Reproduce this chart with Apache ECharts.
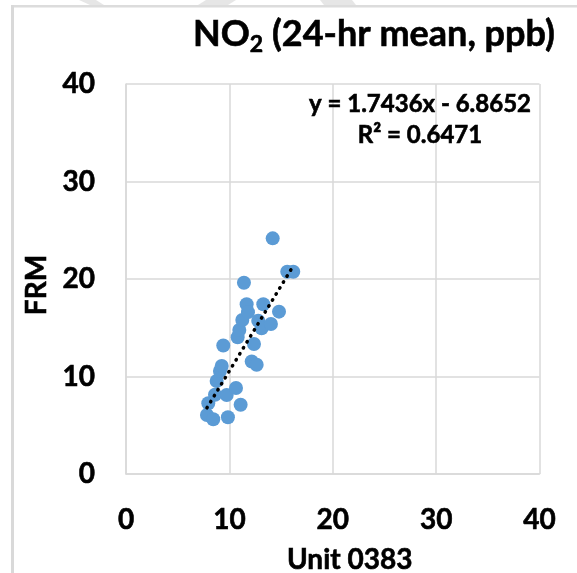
<!DOCTYPE html>
<html>
<head>
<meta charset="utf-8">
<script src="https://cdn.jsdelivr.net/npm/echarts@6/dist/echarts.min.js"></script>
<style>
html,body{margin:0;padding:0;background:#fff;}
#chart{width:577px;height:573px;}
</style>
</head>
<body>
<div id="chart"></div>
<script>
// Unit 0383 readings (x) and FRM readings (y), NO2 24-hr mean, ppb
var unitValues = [7.83, 8.44, 9.86, 7.96, 11.09, 8.61, 9.74, 10.64, 8.77, 9.09, 9.26, 9.41, 12.16, 12.64, 12.38, 10.80, 10.96, 11.25, 12.79, 13.12, 14.02, 14.80, 11.67, 13.28, 11.80, 11.41, 14.19, 15.60, 16.18];
var frmValues  = [6.05, 5.61, 5.82, 7.25, 7.11, 8.13, 8.10, 8.82, 9.54, 10.56, 11.08, 13.18, 11.54, 11.21, 13.33, 14.02, 14.77, 15.79, 15.72, 14.94, 15.38, 16.65, 17.41, 17.41, 16.60, 19.62, 24.17, 20.75, 20.75];
var axisTicks = [0, 10, 20, 30, 40];
var slope = 1.7436;
var intercept = -6.8652;
var rSquared = '0.6471';

var points = unitValues.map(function (x, i) { return [x, frmValues[i]]; });
var xMin = Math.min.apply(null, unitValues);
var xMax = Math.max.apply(null, unitValues);
var trend = [[xMin, slope * xMin + intercept], [xMax, slope * xMax + intercept]];

var FONT = 'Lato';
var bold = {fontFamily: FONT, fontWeight: 'bold', color: '#000', textBorderColor: '#000', textBorderWidth: 0.6};
function txt(size, extra) { return Object.assign({}, bold, {fontSize: size}, extra || {}); }

var chart = echarts.init(document.getElementById('chart'), null, {renderer: 'canvas'});
var axisCommon = {
  type: 'value',
  min: axisTicks[0],
  max: axisTicks[axisTicks.length - 1],
  interval: axisTicks[1] - axisTicks[0],
  axisLine: {show: true, lineStyle: {color: '#d9d9d9', width: 1.5}},
  axisTick: {show: false},
  splitLine: {show: true, lineStyle: {color: '#d9d9d9', width: 1.5}},
  nameLocation: 'middle'
};
chart.setOption({
  animation: false,
  backgroundColor: '#fff',
  title: [{
    text: '{a|NO}{s|2}{a| (24-hr mean, ppb)}',
    left: 188,
    top: 7,
    textStyle: {
      rich: {
        a: txt(36, {lineHeight: 44, verticalAlign: 'middle'}),
        s: txt(23, {lineHeight: 14, verticalAlign: 'bottom'})
      }
    }
  }, {
    text: 'y = ' + slope + 'x - ' + Math.abs(intercept) + '\nR\u00b2 = ' + rSquared,
    left: 415,
    top: 84,
    textAlign: 'center',
    textStyle: txt(24, {lineHeight: 31, align: 'center'})
  }],
  grid: {left: 126, right: 37.5, top: 84, bottom: 99, containLabel: false, outerBoundsMode: 'none'},
  xAxis: Object.assign({}, axisCommon, {
    name: 'Unit 0383',
    nameGap: 72,
    nameTextStyle: txt(28, {padding: [0, 0, 0, 34]}),
    axisLabel: txt(28, {margin: 32})
  }),
  yAxis: Object.assign({}, axisCommon, {
    name: 'FRM',
    nameGap: 69,
    nameRotate: 90,
    nameTextStyle: txt(28, {padding: [0, 12, 0, 0]}),
    axisLabel: txt(28, {margin: 31})
  }),
  series: [{
    type: 'scatter',
    data: points,
    symbolSize: 14,
    itemStyle: {color: '#5b9bd5', opacity: 1},
    z: 2
  }, {
    type: 'line',
    data: trend,
    symbol: 'none',
    lineStyle: {color: '#000', width: 3.5, type: [0.5, 6.5], cap: 'round'},
    z: 3
  }],
  graphic: [
    {type: 'rect', shape: {x: 11, y: 5, width: 566, height: 2.5}, style: {fill: '#dcdcdc'}, silent: true},
    {type: 'rect', shape: {x: 11, y: 5, width: 3, height: 568}, style: {fill: '#d9d9d9'}, silent: true},
    {type: 'polygon', shape: {points: [[79, 0], [96, 0], [104, 5], [90, 5]]}, style: {fill: '#e6e6e6'}, silent: true},
    {type: 'polygon', shape: {points: [[206, 0], [236, 0], [228, 5], [198, 5]]}, style: {fill: '#e6e6e6'}, silent: true},
    {type: 'polygon', shape: {points: [[320, 0], [352, 0], [356, 5], [324, 5]]}, style: {fill: '#e6e6e6'}, silent: true}
  ]
});
</script>
</body>
</html>
